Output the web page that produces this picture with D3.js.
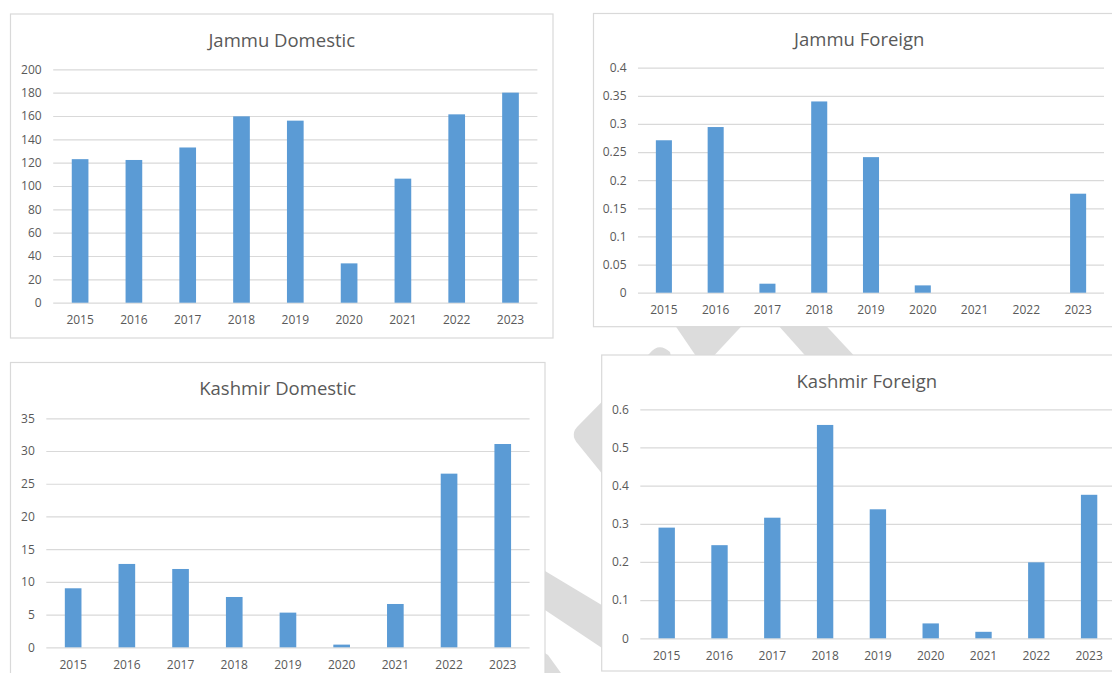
<!DOCTYPE html>
<html>
<head>
<meta charset="utf-8">
<script src="https://cdn.jsdelivr.net/npm/d3@7"></script>
<style>
  html, body { margin: 0; padding: 0; background: #ffffff; }
  svg { display: block; }
  text { font-family: "Open Sans", "Segoe UI", sans-serif; fill: #595959; }
</style>
</head>
<body>
<svg id="chart" width="1112" height="673"></svg>
<script>
// ---------------- data ----------------
const years = ["2015", "2016", "2017", "2018", "2019", "2020", "2021", "2022", "2023"];

const jammuDomestic   = [123, 122.3, 133, 159.7, 156, 33.7, 106.3, 161.4, 180];
const jammuForeign    = [0.271, 0.2945, 0.016, 0.34, 0.241, 0.013, 0, 0, 0.176];
const kashmirDomestic = [9.02, 12.74, 11.97, 7.69, 5.3, 0.41, 6.62, 26.54, 31.07];
const kashmirForeign  = [0.29, 0.244, 0.316, 0.559, 0.338, 0.039, 0.017, 0.199, 0.376];

const jammuDomesticTicks   = [0, 20, 40, 60, 80, 100, 120, 140, 160, 180, 200];
const jammuForeignTicks    = [0, 0.05, 0.1, 0.15, 0.2, 0.25, 0.3, 0.35, 0.4];
const kashmirDomesticTicks = [0, 5, 10, 15, 20, 25, 30, 35];
const kashmirForeignTicks  = [0, 0.1, 0.2, 0.3, 0.4, 0.5, 0.6];

const titles = ["Jammu Domestic", "Jammu Foreign", "Kashmir Domestic", "Kashmir Foreign"];

// ---------------- layout ----------------
const panels = [
  { title: titles[0], values: jammuDomestic, ticks: jammuDomesticTicks,
    box: [10.5, 14, 553, 338], plotX: [53.2, 537.4], plotY: [302.7, 69.3] },
  { title: titles[1], values: jammuForeign, ticks: jammuForeignTicks,
    box: [593.5, 13.5, 1125, 326.7], plotX: [638, 1104], plotY: [292.7, 67.7] },
  { title: titles[2], values: kashmirDomestic, ticks: kashmirDomesticTicks,
    box: [10.5, 362.5, 545, 690], plotX: [46.3, 529.6], plotY: [647.3, 418.3] },
  { title: titles[3], values: kashmirForeign, ticks: kashmirForeignTicks,
    box: [601.7, 355, 1132, 671], plotX: [640.3, 1115.5], plotY: [638.3, 409.3] }
];

const svg = d3.select("#chart");

// background watermark (decorative shapes, partly hidden behind the panels)
const watermark = [
  "M668,315 L752,315 L708,362 L700,362 Z",
  "M769,315 L816,315 L860,362 L811,362 Z",
  "M650,353 Q659,342 670,352 L700,480 L608,481 L578,444 Q569,434 579,425 Z",
  "M530,562 L620,616 L620,660 L530,600 Z",
  "M540,650 L548,655 L561,673 L540,673 Z"
];
svg.append("g").selectAll("path").data(watermark).join("path")
  .attr("d", d => d).attr("fill", "#dcdcdc");

panels.forEach(p => {
  const g = svg.append("g");
  const [x0, y0, x1, y1] = p.box;
  g.append("rect")
    .attr("x", x0).attr("y", y0)
    .attr("width", x1 - x0).attr("height", y1 - y0)
    .attr("fill", "#ffffff").attr("stroke", "#d9d9d9").attr("stroke-width", 1.2);

  g.append("text")
    .attr("x", (x0 + x1) / 2).attr("y", y0 + 25)
    .attr("text-anchor", "middle").attr("dominant-baseline", "central")
    .style("font-size", "18.5px")
    .text(p.title);

  const x = d3.scaleBand().domain(years).range(p.plotX)
    .paddingInner(0.69).paddingOuter(0.345);
  const y = d3.scaleLinear()
    .domain([p.ticks[0], p.ticks[p.ticks.length - 1]])
    .range(p.plotY);

  // gridlines + y labels via axis
  const yAxis = d3.axisLeft(y).tickValues(p.ticks)
    .tickSize(-(p.plotX[1] - p.plotX[0])).tickPadding(11.5)
    .tickFormat(d => String(d));
  const ya = g.append("g").attr("transform", `translate(${p.plotX[0]},0)`).call(yAxis);
  ya.select(".domain").remove();
  ya.selectAll("line").attr("stroke", "#d9d9d9").attr("stroke-width", 1.2);
  ya.selectAll("text").style("font-size", "12px").attr("fill", "#595959")
    .style("font-family", "'Open Sans', sans-serif");

  // bars
  g.append("g").selectAll("rect").data(p.values).join("rect")
    .attr("x", (d, i) => x(years[i]))
    .attr("width", x.bandwidth())
    .attr("y", d => y(d))
    .attr("height", d => y(0) - y(d))
    .attr("fill", "#5b9bd5");

  // x labels via axis
  const xAxis = d3.axisBottom(x).tickSize(0).tickPadding(13);
  const xa = g.append("g").attr("transform", `translate(0,${p.plotY[0]})`).call(xAxis);
  xa.select(".domain").remove();
  xa.selectAll("text").style("font-size", "12px").attr("fill", "#595959")
    .style("font-family", "'Open Sans', sans-serif");
});
</script>
</body>
</html>
